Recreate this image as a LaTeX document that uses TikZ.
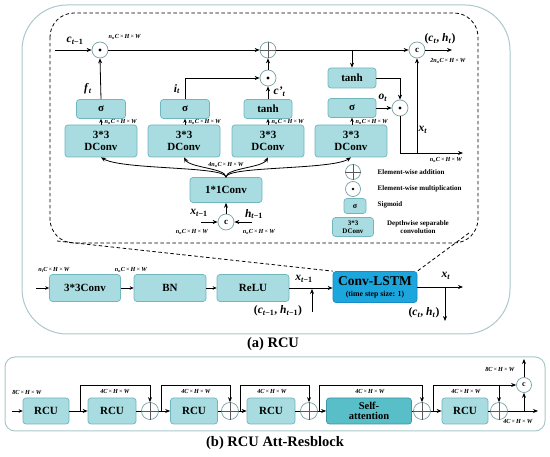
\documentclass[tikz,border=0pt]{standalone}
\usepackage{fontspec}
\setmainfont{Liberation Serif}
\usetikzlibrary{arrows.meta}
\definecolor{boxfill}{RGB}{168,220,224}
\definecolor{boxdraw}{RGB}{112,182,190}
\definecolor{lstmfill}{RGB}{28,166,222}
\definecolor{lstmdraw}{RGB}{22,140,200}
\definecolor{safill}{RGB}{88,190,200}
\definecolor{sadraw}{RGB}{60,150,165}
\definecolor{opdraw}{RGB}{120,160,165}
\definecolor{frame}{RGB}{170,200,202}
\newcommand{\bi}[1]{\textbf{\textit{#1}}}
\newcommand{\dm}[1]{#1\bi{C}\,×\,\bi{H}\,×\,\bi{W}}
\newcommand{\nsub}[1]{\bi{n}\textsubscript{\bi{#1}}}
\begin{document}
\begin{tikzpicture}[x=1pt,y=-1pt,
  box/.style={draw=boxdraw, fill=boxfill, rounded corners=3pt, line width=0.7pt, inner sep=0pt, align=center, font=\bfseries\fontsize{11}{11.5}\selectfont},
  op/.style={circle, draw=opdraw, fill=white, line width=0.7pt, minimum size=16pt, inner sep=0pt},
  cross/.style={draw=black!65, line width=0.7pt},
  arr/.style={-{Stealth[length=5pt,width=4pt]}, line width=0.8pt},
  sarr/.style={-{Stealth[length=4pt,width=3.5pt]}, line width=0.8pt},
  ln/.style={line width=0.8pt},
  dim/.style={font=\fontsize{6.2}{7}\selectfont, inner sep=0.5pt},
  var/.style={font=\fontsize{11.5}{12}\selectfont, inner sep=0.5pt},
  leg/.style={font=\bfseries\fontsize{7}{8}\selectfont, inner sep=0.5pt, align=center},
  captxt/.style={font=\bfseries\fontsize{14.5}{16}\selectfont, inner sep=0pt},
  frm/.style={draw=frame, line width=1pt},
  dashbox/.style={dashed, line width=0.8pt, dash pattern=on 3.5pt off 2.5pt}
]
\useasboundingbox (0,0) rectangle (550,457);

% ---------- (a) frame ----------
\draw[frm, rounded corners=45pt] (22,5) rectangle (510,334);
\draw[dashbox, rounded corners=24pt] (50,13) rectangle (478,243);

% ---------- top line ----------
\coordinate (cin) at (55,50);
\coordinate (cout) at (452,50);
\node[op] (d1) at (100,50) {};
\fill (d1) circle (1.6pt);
\node[op] (p1) at (268,50) {};
\draw[cross] (p1.north) -- (p1.south) (p1.west) -- (p1.east);
\node[op, font=\bfseries\fontsize{9}{9}\selectfont] (cc1) at (417,50) {c};
\draw[arr] (cin) -- (d1);
\draw[arr] (d1) -- (p1);
\draw[arr] (p1) -- (cc1);
\draw[arr] (cc1) -- (cout);
\node[var] at (75,41) {\bi{c}\textsubscript{\bi{t}\textbf{−1}}};
\node[dim, anchor=west] at (108,37) {\dm{\nsub{o}}};
\node[var] at (440,39) {\textbf{(}\bi{c}\textsubscript{\bi{t}}\textbf{, }\bi{h}\textsubscript{\bi{t}}\textbf{)}};
\node[dim] at (448,61) {\dm{\textbf{\textit{2}}\nsub{o}}};

% ---------- gate columns ----------
\node[box, minimum width=49pt, minimum height=19pt] (s1) at (101,109) {σ};
\node[box, minimum width=72pt, minimum height=32pt] (dc1) at (101,141) {3*3\\DConv};
\node[box, minimum width=49pt, minimum height=19pt] (s2) at (185,109) {σ};
\node[box, minimum width=72pt, minimum height=32pt] (dc2) at (184,141) {3*3\\DConv};
\node[box, minimum width=48pt, minimum height=19pt] (t2) at (268,109) {tanh};
\node[box, minimum width=72pt, minimum height=32pt] (dc3) at (268,141) {3*3\\DConv};
\node[box, minimum width=48pt, minimum height=20pt] (tr) at (352,78) {tanh};
\node[box, minimum width=48pt, minimum height=19pt] (sr) at (352,108) {σ};
\node[box, minimum width=72pt, minimum height=32pt] (dc4) at (351,141) {3*3\\DConv};
\node[op] (d2) at (268,78) {};
\fill (d2) circle (1.6pt);
\node[op] (d3) at (400,108) {};
\fill (d3) circle (1.6pt);

\foreach \a/\b/\x in {dc1/s1/101, dc2/s2/185, dc3/t2/268, dc4/sr/352}{
  \draw[sarr] (\a.north -| \b) -- (\b.south);
  \node[dim, anchor=west] at (\x+3,122) {\dm{\nsub{o}}};
}

\draw[arr] (s1.north) -- (d1.south);
\node[var] at (88,89) {\bi{f}\textsubscript{\bi{t}}};
\draw[arr] (s2.north) |- (d2.west);
\node[var] at (177,89) {\bi{i}\textsubscript{\bi{t}}};
\draw[arr] (t2.north) -- (d2.south);
\node[var, anchor=west] at (273,92) {\bi{c'}\textsubscript{\bi{t}}};
\draw[arr] (d2.north) -- (p1.south);
\draw[arr] (tr.north |- cin) -- (tr.north);
\draw[arr] (tr.east) -| (d3.north);
\draw[arr] (sr.east) -- (d3.west);
\node[var] at (383,98) {\bi{o}\textsubscript{\bi{t}}};
\coordinate (xo) at (463,153);
\draw[arr] (d3.south) |- (xo);
\draw[arr] (cc1.south |- xo) -- (cc1.south);
\node[var] at (423,130) {\bi{x}\textsubscript{\bi{t}}};
\node[dim] at (446,160) {\dm{\nsub{o}}};

% ---------- 1*1 conv ----------
\node[box, minimum width=72pt, minimum height=25pt] (c11) at (226,190) {1*1Conv};
\draw[arr] (c11.north) .. controls (226,166) and (122,170) .. (dc1.south);
\draw[arr] (c11.north) .. controls (226,168) and (190,168) .. (dc2.south);
\draw[arr] (c11.north) .. controls (226,168) and (262,168) .. (dc3.south);
\draw[arr] (c11.north) .. controls (226,166) and (332,170) .. (dc4.south);
\node[dim] at (226,164.5) {\dm{\textbf{\textit{4}}\nsub{o}}};
\node[op, minimum size=16pt, font=\bfseries\fontsize{9}{9}\selectfont] (cc2) at (226,222) {c};
\draw[arr] (cc2.north) -- (c11.south);
\coordinate (xin) at (201,222);
\coordinate (hin) at (252,222);
\draw[arr] (xin) -- (cc2.west);
\draw[arr] (hin) -- (cc2.east);
\node[var] at (199,213) {\bi{x}\textsubscript{\bi{t}\textbf{−1}}};
\node[var] at (254,214) {\bi{h}\textsubscript{\bi{t}\textbf{−1}}};
\node[dim] at (192,232) {\dm{\nsub{o}}};
\node[dim] at (259,232) {\dm{\nsub{o}}};

% ---------- legend ----------
\node[op, minimum size=15pt] (lp) at (353,172) {};
\draw[cross] (lp.north) -- (lp.south) (lp.west) -- (lp.east);
\node[op, minimum size=15pt] (ld) at (353,189) {};
\fill (ld) circle (1.4pt);
\node[box, minimum width=22pt, minimum height=15pt, font=\bfseries\fontsize{8}{8}\selectfont] (ls) at (355,206) {σ};
\node[box, minimum width=41pt, minimum height=19pt, font=\bfseries\fontsize{7}{8}\selectfont] (ldc) at (353,227) {3*3\\DConv};
\node[leg, anchor=west] at (377,172) {Element-wise addition};
\node[leg, anchor=west] at (377,189) {Element-wise multiplication};
\node[leg, anchor=west] at (377,205) {Sigmoid};
\node[leg] at (418,227) {Depthwise separable\\convolution};

% ---------- bottom row (a) ----------
\node[box, minimum width=71pt, minimum height=27pt] (c33) at (85,288) {3*3Conv};
\node[box, minimum width=72pt, minimum height=27pt] (bn) at (170,288) {BN};
\node[box, minimum width=72pt, minimum height=27pt] (relu) at (253,288) {ReLU};
\node[box, draw=lstmdraw, fill=lstmfill, minimum width=84pt, minimum height=31pt, font=\bfseries] (lstm) at (375,287)
  {{\fontsize{13.5}{13.5}\selectfont Conv-LSTM}\\[-1pt]{\fontsize{7.8}{8}\selectfont (time step size: 1)}};
\draw[dashbox] (57,241) -- (lstm.north west);
\draw[dashbox] (469,233) -- (lstm.north east);
\coordinate (ain) at (36,288);
\draw[sarr] (ain) -- (c33.west);
\draw[sarr] (c33.east) -- (bn.west);
\draw[sarr] (bn.east) -- (relu.west);
\draw[arr] (relu.east) -- (relu.east -| lstm.west);
\node[dim] at (54,270) {\dm{\nsub{i}}};
\node[dim] at (131,270) {\dm{\nsub{o}}};
\node[var] at (304,279) {\bi{x}\textsubscript{\bi{t}\textbf{−1}}};
\coordinate (chin) at (312,312);
\draw[arr] (chin) -- (312,289);
\node[var] at (278,311) {\textbf{(}\bi{c}\textsubscript{\bi{t}\textbf{−1}}\textbf{, }\bi{h}\textsubscript{\bi{t}\textbf{−1}}\textbf{)}};
\coordinate (aout) at (463,287);
\draw[arr] (lstm.east) -- (aout);
\coordinate (chout) at (445,321);
\draw[arr] (445,287) -- (chout);
\node[var] at (446,276) {\bi{x}\textsubscript{\bi{t}}};
\node[var] at (424,313) {\textbf{(}\bi{c}\textsubscript{\bi{t}}\textbf{, }\bi{h}\textsubscript{\bi{t}}\textbf{)}};

\node[captxt] at (273,344) {(a) RCU};

% ---------- (b) ----------
\draw[frm, rounded corners=10pt] (5,357) rectangle (545,431);
\node[box, minimum width=46pt, minimum height=26pt] (r1) at (46,411) {RCU};
\node[box, minimum width=48pt, minimum height=26pt] (r2) at (112,411) {RCU};
\node[box, minimum width=47pt, minimum height=26pt] (r3) at (194,411) {RCU};
\node[box, minimum width=48pt, minimum height=26pt] (r4) at (271,411) {RCU};
\node[box, draw=sadraw, fill=safill, minimum width=85pt, minimum height=26pt, font=\bfseries\fontsize{10.5}{10.5}\selectfont] (sa) at (369,411) {Self-\\attention};
\node[box, minimum width=46pt, minimum height=26pt] (r5) at (465,411) {RCU};
\foreach \n/\x in {q1/150, q2/230, q3/309, q4/422, q5/499}{
  \node[op, minimum size=17pt] (\n) at (\x,411) {};
  \draw[cross] (\n.north) -- (\n.south) (\n.west) -- (\n.east);
}
\node[op, minimum size=15pt, font=\bfseries\fontsize{8}{8}\selectfont] (cb) at (524,385) {c};

\coordinate (bin) at (12,411);
\draw[sarr] (bin) -- (r1.west);
\node[dim] at (27,392) {\dm{\textbf{\textit{8}}}};
\draw[arr] (r1.east) -- (r2.west);
\draw[ln] (r2.east) -- (q1.west);
\draw[arr] (q1.east) -- (r3.west);
\draw[ln] (r3.east) -- (q2.west);
\draw[arr] (q2.east) -- (r4.west);
\draw[ln] (r4.east) -- (q3.west);
\draw[arr] (q3.east) -- (sa.west);
\draw[ln] (sa.east) -- (q4.west);
\draw[arr] (q4.east) -- (r5.west);
\draw[ln] (r5.east) -- (q5.west);
\coordinate (bout) at (538,411);
\draw[arr] (q5.east) -- (bout);

\draw[arr] (80,411) |- (150,385) -- (q1.north);
\draw[arr] (161,411) |- (230,385) -- (q2.north);
\draw[arr] (240,411) |- (309,385) -- (q3.north);
\draw[arr] (319,411) |- (422,385) -- (q4.north);
\draw[arr] (433,411) |- (cb.west);
\draw[arr] (499,385) -- (q5.north);
\draw[arr] (524,411) -- (cb.south);
\coordinate (cbout) at (524,359);
\draw[arr] (cb.north) -- (cbout);
\foreach \x in {115,196,272,370,466}{
  \node[dim] at (\x,391) {\dm{\textbf{\textit{4}}}};
}
\node[dim] at (500,369) {\dm{\textbf{\textit{8}}}};
\node[dim] at (518,421) {\dm{\textbf{\textit{4}}}};

\node[captxt] at (275,443) {(b) RCU Att-Resblock};
\end{tikzpicture}
\end{document}
